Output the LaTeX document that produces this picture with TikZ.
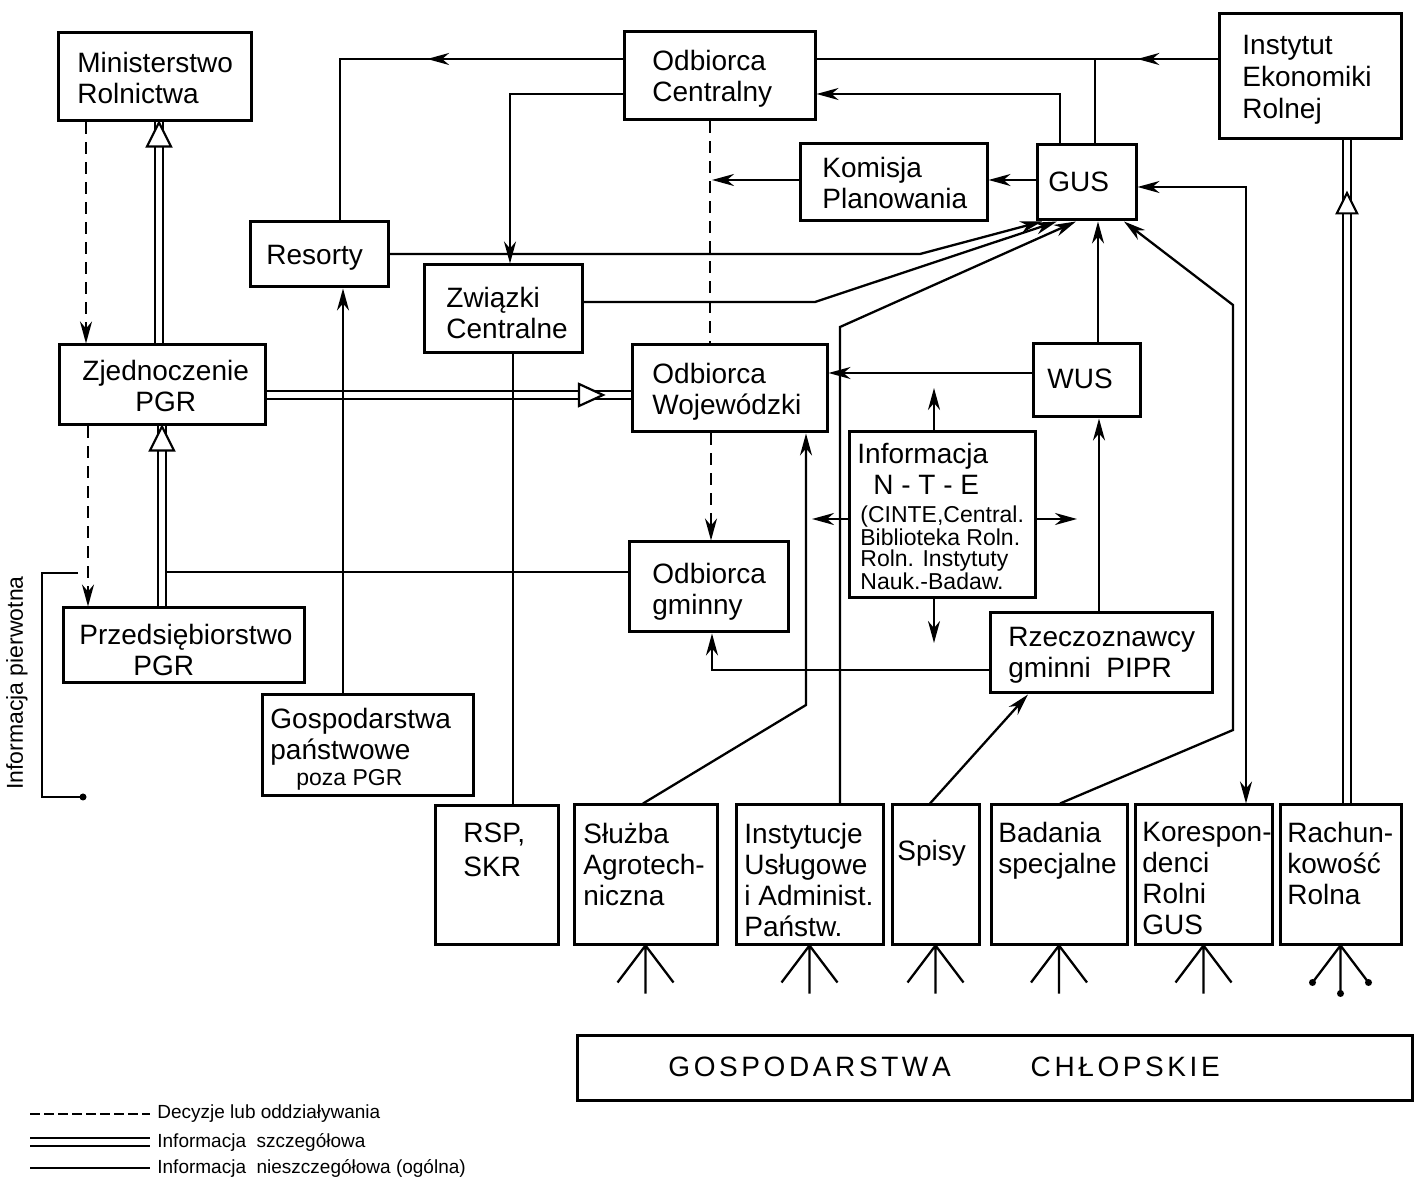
\documentclass[tikz,border=0pt]{standalone}
\usepackage{fontspec}
\setmainfont{Liberation Sans}
\usetikzlibrary{arrows.meta,decorations.markings}
\begin{document}
\begin{tikzpicture}[x=0.5pt,y=-0.5pt,
 >={Stealth[length=11pt,width=6pt,inset=3.5pt]},
 box/.style={draw, line width=1.5pt, inner sep=0pt},
 wh/.style 2 args={minimum width=#1*0.5pt, minimum height=#2*0.5pt},
 txt/.style={inner sep=0pt, align=left, anchor=north west, font=\fontsize{14}{15.5}\selectfont},
 smalltxt/.style={inner sep=0pt, align=left, anchor=north west, font=\fontsize{11.5}{10.5}\selectfont},
 legtxt/.style={inner sep=0pt, anchor=west, font=\fontsize{9.5}{12}\selectfont},
 gen/.style={line width=1.15pt},
 dec/.style={line width=1.15pt, dash pattern=on 6pt off 4pt},
 dbl/.style={double, double distance=3pt, line width=1pt},
 midarrow/.style={postaction={decorate,decoration={markings,mark=at position #1 with {\arrow{>}}}}},
 otriU/.pic={\draw[line width=1.1pt, fill=white] (0,0) -- (-12,24) -- (12,24) -- cycle;},
 otriR/.pic={\draw[line width=1.1pt, fill=white] (0,0) -- (-24,-11) -- (-24,11) -- cycle;},
 dotn/.style={circle, fill, inner sep=0pt, minimum size=3.5pt},
]
\useasboundingbox (0,0) rectangle (1414,1186);

% ---------- boxes ----------
\node[box, wh={193}{88}]  (min)  at (154.5,77) {};
\node[box, wh={191}{88}]  (oc)   at (719.5,76) {};
\node[box, wh={182}{125}] (ier)  at (1310,76.5) {};
\node[box, wh={187}{77}]  (kom)  at (893.5,182.5) {};
\node[box, wh={99}{75}]   (gus)  at (1086.5,182.5) {};
\node[box, wh={138}{65}]  (res)  at (319,254.5) {};
\node[box, wh={158}{88}]  (zw)   at (503,309) {};
\node[box, wh={206}{80}]  (zje)  at (162,385) {};
\node[box, wh={195}{87}]  (ow)   at (729.5,388.5) {};
\node[box, wh={107}{73}]  (wus)  at (1086.5,380.5) {};
\node[box, wh={186}{166}] (inf)  at (942,515) {};
\node[box, wh={159}{90}]  (og)   at (708.5,587) {};
\node[box, wh={241}{75}]  (prz)  at (183.5,645.5) {};
\node[box, wh={222}{80}]  (rz)   at (1101,653) {};
\node[box, wh={211}{101}] (gos)  at (367.5,745.5) {};
\node[box, wh={123}{138}] (rsp)  at (496.5,875) {};
\node[box, wh={143}{139}] (slu)  at (645.5,874.5) {};
\node[box, wh={147}{139}] (ins)  at (809.5,874.5) {};
\node[box, wh={87}{139}]  (spi)  at (935.5,874.5) {};
\node[box, wh={136}{139}] (bad)  at (1059,874.5) {};
\node[box, wh={137}{139}] (kor)  at (1203.5,874.5) {};
\node[box, wh={121}{139}] (rach) at (1340.5,874.5) {};
\node[box, wh={835}{65}]  (gch)  at (994.5,1067.5) {};

% ---------- texts ----------
\node[txt] (tmin) at (77,52) {Ministerstwo\\Rolnictwa};
\node[txt] (toc) at (652,50) {Odbiorca\\Centralny};
\node[txt, font=\fontsize{14}{16}\selectfont] (tier) at (1242,35) {Instytut\\Ekonomiki\\Rolnej};
\node[txt] (tkom) at (822,157) {Komisja\\Planowania};
\node[txt] (tgus) at (1048,172) {GUS};
\node[txt] (tres) at (266,245) {Resorty};
\node[txt] (tzw) at (446,287) {Związki\\Centralne};
\node[txt, align=center] (tzje) at (82,360) {Zjednoczenie\\PGR};
\node[txt] (tow) at (652,363) {Odbiorca\\Wojewódzki};
\node[txt] (twus) at (1047,369) {WUS};
\node[txt] (tinf) at (857,443) {Informacja\\\hspace*{8pt}N - T - E};
\node[smalltxt] (tinf2) at (860,505) {(CINTE,Central.\\Biblioteka Roln.\\Roln. Instytuty\\Nauk.-Badaw.};
\node[txt] (tog) at (652,563) {Odbiorca\\gminny};
\node[txt] (tprz) at (79,624) {Przedsiębiorstwo\\\hspace*{27pt}PGR};
\node[txt] (trz) at (1008,627) {Rzeczoznawcy\\gminni\ \ PIPR};
\node[txt] (tgos) at (270,708) {Gospodarstwa\\państwowe};
\node[smalltxt] (tgos2) at (296,769) {poza PGR};
\node[txt, font=\fontsize{14}{17}\selectfont] (trsp) at (463,823) {RSP,\\SKR};
\node[txt] (tslu) at (583,823) {Służba\\Agrotech-\\niczna};
\node[txt] (tins) at (744,823) {Instytucje\\Usługowe\\i Administ.\\Państw.};
\node[txt] (tspi) at (897,840) {Spisy};
\node[txt] (tbad) at (998,822) {Badania\\specjalne};
\node[txt] (tkor) at (1142,822) {Korespon-\\denci\\Rolni\\GUS};
\node[txt] (trach) at (1287,822) {Rachun-\\kowość\\Rolna};
\node[inner sep=0pt, anchor=west, font=\fontsize{14}{16}\selectfont] (tgch) at (668,1067)
  {G\kern1.8pt O\kern1.8pt S\kern1.8pt P\kern1.8pt O\kern1.8pt D\kern1.8pt A\kern1.8pt R\kern1.8pt S\kern1.8pt T\kern1.8pt W\kern1.8pt A\hspace{40pt}C\kern1.8pt H\kern1.8pt Ł\kern1.8pt O\kern1.8pt P\kern1.8pt S\kern1.8pt K\kern1.8pt I\kern1.8pt E};
\node[rotate=90, inner sep=0pt, font=\fontsize{11.5}{12}\selectfont] (tpier) at (17,683) {Informacja pierwotna};

% ---------- double lines (informacja szczegolowa) ----------
\draw[dbl] (zje.north -| 159,0) -- (min.south -| 159,0);
\pic at (min.south -| 159,0) {otriU};
\draw[dbl] (prz.north -| 162,0) -- (zje.south -| 162,0);
\pic at (zje.south -| 162,0) {otriU};
\draw[dbl] (zje.east |- 0,395) -- (ow.west |- 0,395);
\pic at (603,395) {otriR};
\draw[dbl] (rach.north -| 1347,0) -- (ier.south -| 1347,0);
\pic[scale=0.85] at (1347,193) {otriU};

% ---------- dashed (decyzje) ----------
\draw[dec,->] (min.south -| 86,0) -- (zje.north -| 86,0);
\draw[dec,->] (zje.south -| 88,0) -- (prz.north -| 88,0);
\draw[dec] (oc.south -| 710,0) -- (ow.north -| 710,0);
\draw[dec,->] (ow.south -| 711,0) -- (og.north -| 711,0);

% ---------- general lines ----------
\draw[gen,midarrow=0.44] (oc.west |- 0,59) -| (res.north -| 340,0);
\draw[gen,midarrow=0.2] (ier.west |- 0,59) -- (oc.east |- 0,59);
\coordinate (gtop) at (1095,59);
\draw[gen] (gus.north -| 1095,0) -- (gtop);
\draw[gen,->] (gus.north -| 1060,0) |- (oc.east |- 0,94);
\draw[gen,->] (oc.west |- 0,94) -| (zw.north -| 510,0);
\draw[gen,->] (gus.west |- 0,180) -- (kom.east |- 0,180);
\coordinate (kd) at (712,180);
\draw[gen,->] (kom.west |- 0,180) -- (kd);
\draw[gen,->] (res.east |- 0,254) -- (920,254) -- (gus.south -| 1042,0);
\draw[gen,->] (zw.east |- 0,302) -- (815,302) -- (gus.south -| 1057,0);
\draw[gen,->] (ins.north -| 840,0) -- (840,327) -- (gus.south -| 1076,0);
\draw[gen,->] (wus.north -| 1098,0) -- (gus.south -| 1098,0);
\draw[gen,->] (bad.north -| 1060,0) -- (1233,730) -- (1233,305) -- (gus.south -| 1124,0);
\draw[gen,<->] (gus.east |- 0,187) -| (kor.north -| 1246,0);
\draw[gen,->] (wus.west |- 0,373) -- (ow.east |- 0,373);
\draw[gen,->] (slu.north -| 643,0) -- (806,705) -- (ow.south -| 806,0);
\coordinate (infU) at (934,388);
\coordinate (infD) at (934,643);
\coordinate (infL) at (812,519);
\coordinate (infR) at (1077,519);
\draw[gen,->] (inf.north -| 934,0) -- (infU);
\draw[gen,->] (inf.south -| 934,0) -- (infD);
\draw[gen,->] (inf.west |- 0,519) -- (infL);
\draw[gen,->] (inf.east |- 0,519) -- (infR);
\draw[gen,->] (rz.north -| 1099,0) -- (wus.south -| 1099,0);
\draw[gen,->] (rz.west |- 0,670) -| (og.south -| 712,0);
\draw[gen,->] (spi.north -| 930,0) -- (rz.south -| 1028,0);
\draw[gen] (rsp.north -| 513,0) -- (zw.south -| 513,0);
\draw[gen,->] (gos.north -| 343,0) -- (res.south -| 343,0);
\coordinate (dj) at (166,572);
\draw[gen] (og.west |- 0,572) -- (dj);

% ---------- bracket informacja pierwotna ----------
\coordinate (bt) at (78,573);
\coordinate (bb) at (83,797);
\draw[gen] (bt) -- (42,573) -- (42,797) -- (bb);
\node[dotn] (bdot) at (bb) {};

% ---------- tripods ----------
\foreach \b in {slu,ins,spi,bad,kor,rach}{
  \draw[gen] (\b.south) -- ++(0,48) (\b.south) -- ++(-28,37) (\b.south) -- ++(28,37);
}
\path (rach.south) ++(0,48) node[dotn] (rd1) {};
\path (rach.south) ++(-28,37) node[dotn] (rd2) {};
\path (rach.south) ++(28,37) node[dotn] (rd3) {};

% ---------- legend ----------
\draw[line width=1.4pt, dash pattern=on 5pt off 2pt] (30,1114) -- (150,1114);
\draw[dbl] (30,1142) -- (150,1142);
\draw[line width=1.4pt] (30,1168) -- (150,1168);
\node[legtxt] (l1) at (157,1114) {Decyzje lub oddziaływania};
\node[legtxt] (l2) at (157,1142) {Informacja\ \ szczegółowa};
\node[legtxt] (l3) at (157,1168) {Informacja\ \ nieszczegółowa (ogólna)};
\end{tikzpicture}
\end{document}
